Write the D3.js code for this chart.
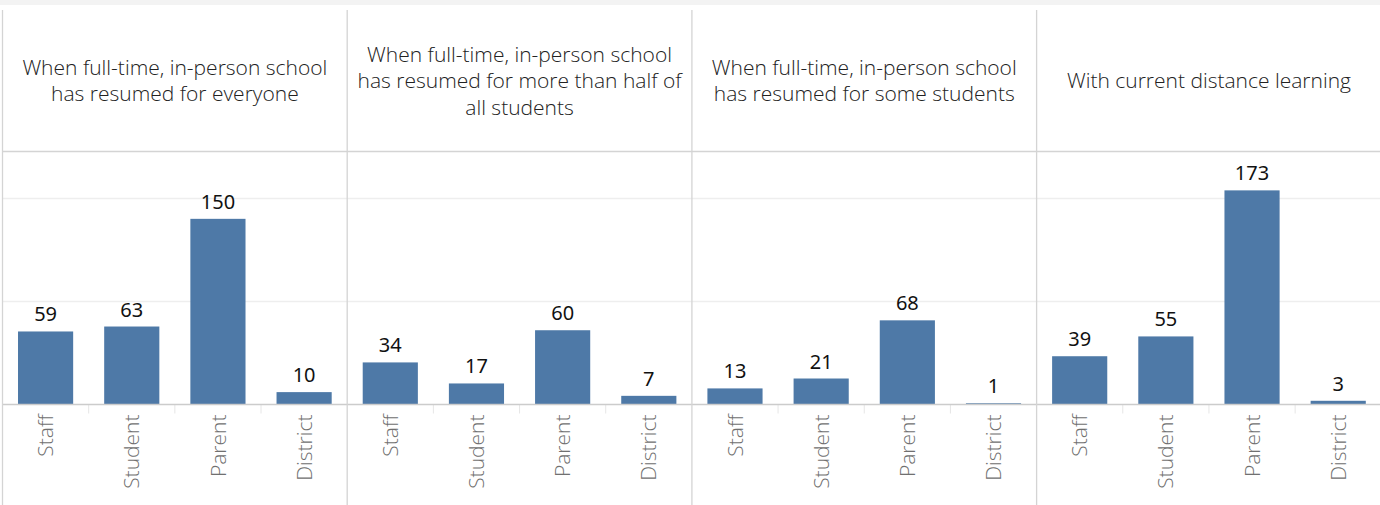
<!DOCTYPE html>
<html>
<head>
<meta charset="utf-8">
<script src="https://cdn.jsdelivr.net/npm/d3@7"></script>
<style>
  html, body { margin: 0; padding: 0; background: #fff; }
  svg { display: block; }
</style>
</head>
<body>
<svg id="chart" width="1380" height="505"></svg>
<script>
// ---- data ----
const panels = [
  ["When full-time, in-person school", "has resumed for everyone"],
  ["When full-time, in-person school", "has resumed for more than half of", "all students"],
  ["When full-time, in-person school", "has resumed for some students"],
  ["With current distance learning"]
];
const categories = ["Staff", "Student", "Parent", "District"];
const valuesEveryone = [59, 63, 150, 10];
const valuesMoreThanHalf = [34, 17, 60, 7];
const valuesSome = [13, 21, 68, 1];
const valuesDistance = [39, 55, 173, 3];
const seriesValues = [valuesEveryone, valuesMoreThanHalf, valuesSome, valuesDistance];
const gridTicks = [83.3, 166.7];
const yDomainMax = 204.4;

// ---- layout ----
const W = 1380, H = 505;
const left = 2.5, panelW = 344.7;
const headerTop = 10, headerBottom = 151.5, baseY = 404.5;

const svg = d3.select("#chart");
const font = "'Open Sans', 'Noto Sans', sans-serif";
const fontVal = "'Noto Sans', sans-serif";

svg.append("rect").attr("x", 0).attr("y", 0).attr("width", W).attr("height", 5).attr("fill", "#f3f3f3");

const panelScale = d3.scaleBand().domain(d3.range(panels.length)).range([left, left + panelW * panels.length]).padding(0);
const y = d3.scaleLinear().domain([0, yDomainMax]).range([baseY, headerBottom]);

panels.forEach((lines, i) => {
  const x0 = panelScale(i);
  const g = svg.append("g");
  const x = d3.scaleBand().domain(categories).range([x0, x0 + panelW]).paddingInner(0.36).paddingOuter(0.18);

  // gridlines
  g.selectAll("line.grid").data(gridTicks).enter().append("line")
    .attr("x1", x0).attr("x2", x0 + panelW)
    .attr("y1", d => Math.round(y(d)) + 0.5).attr("y2", d => Math.round(y(d)) + 0.5)
    .attr("stroke", "#eeeeee").attr("stroke-width", 1.3);

  // bars
  g.selectAll("rect.bar").data(seriesValues[i]).enter().append("rect")
    .attr("x", (d, j) => x(categories[j]))
    .attr("width", x.bandwidth())
    .attr("y", d => y(d))
    .attr("height", d => baseY - y(d))
    .attr("fill", "#4e79a7");

  // value labels
  g.selectAll("text.val").data(seriesValues[i]).enter().append("text")
    .attr("x", (d, j) => x(categories[j]) + x.bandwidth() / 2)
    .attr("y", d => y(d) - 10)
    .attr("text-anchor", "middle")
    .attr("font-family", fontVal).attr("font-size", 20).attr("fill", "#111")
    .text(d => d);

  // tick separators
  g.selectAll("line.sep").data(d3.range(1, categories.length)).enter().append("line")
    .attr("x1", k => x0 + panelW / categories.length * k).attr("x2", k => x0 + panelW / categories.length * k)
    .attr("y1", baseY).attr("y2", baseY + 9)
    .attr("stroke", "#e6e6e6").attr("stroke-width", 1);

  // category labels
  g.selectAll("text.cat").data(categories).enter().append("text")
    .attr("transform", c => `translate(${x(c) + x.bandwidth() / 2},${baseY + 10}) rotate(-90)`)
    .attr("text-anchor", "end").attr("dy", "0.36em")
    .attr("font-family", font).attr("font-weight", 300).attr("font-size", 21).attr("fill", "#707070")
    .text(c => c);

  // header text
  const n = lines.length;
  const ht = g.append("text").attr("text-anchor", "middle")
    .attr("font-family", font).attr("font-weight", 300).attr("font-size", 21).attr("fill", "#222");
  lines.forEach((t, k) => {
    ht.append("tspan").attr("x", x0 + panelW / 2)
      .attr("y", 88.3 + (k - (n - 1) / 2) * 26.3).text(t);
  });
});

// header bottom line and baseline
svg.append("line").attr("x1", left).attr("x2", W).attr("y1", headerBottom).attr("y2", headerBottom)
  .attr("stroke", "#d4d4d4").attr("stroke-width", 1.3);
svg.append("line").attr("x1", left).attr("x2", W).attr("y1", baseY).attr("y2", baseY)
  .attr("stroke", "#cccccc").attr("stroke-width", 1.3);

// panel borders
svg.selectAll("line.border").data(d3.range(panels.length)).enter().append("line")
  .attr("x1", i => panelScale(i)).attr("x2", i => panelScale(i))
  .attr("y1", headerTop).attr("y2", H)
  .attr("stroke", "#d4d4d4").attr("stroke-width", 1.3);
</script>
</body>
</html>
